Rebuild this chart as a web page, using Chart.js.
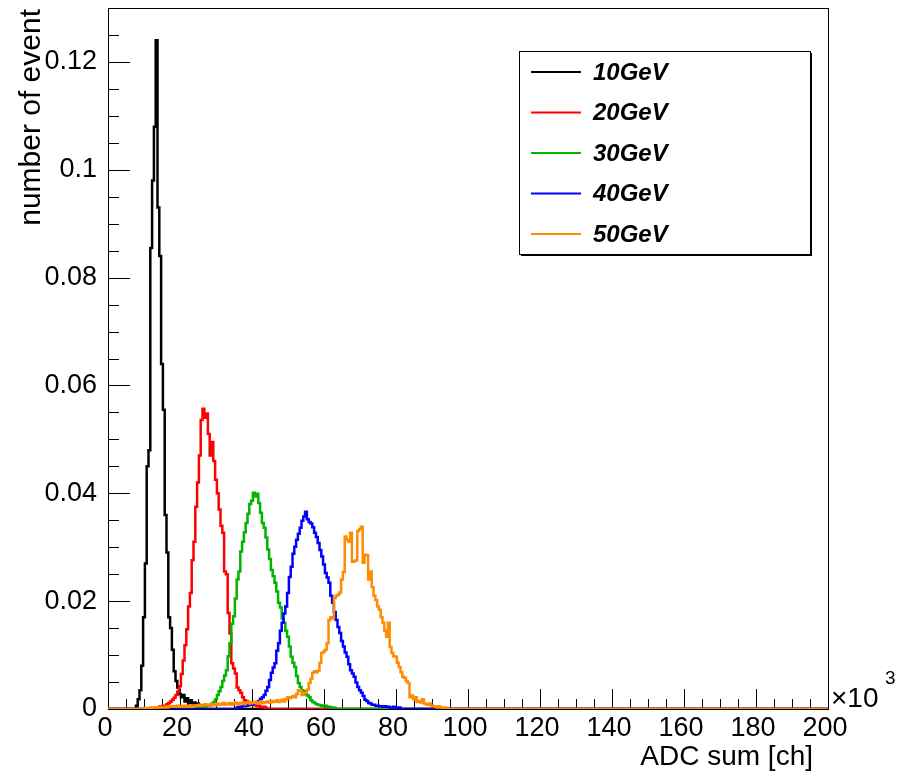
<!DOCTYPE html>
<html>
<head>
<meta charset="utf-8">
<script src="https://cdn.jsdelivr.net/npm/chart.js@4.4.1/dist/chart.umd.min.js"></script>
<style>
  html, body { margin: 0; padding: 0; background: #fff; }
  #wrap { width: 898px; height: 773px; }
</style>
</head>
<body>
<div id="wrap"><canvas id="adc-chart" width="898" height="773"></canvas></div>
<script>
// Legend labels and line colours, one per beam energy
const energyLabels = ['10GeV', '20GeV', '30GeV', '40GeV', '50GeV'];
const lineColors = ['#000000', '#ff0000', '#00b400', '#0000ff', '#ff8c00'];

// Axis ticks (x in units of 10^3 ch)
const xTickValues = [0, 20, 40, 60, 80, 100, 120, 140, 160, 180, 200];
const xTickLabels = ['0', '20', '40', '60', '80', '100', '120', '140', '160', '180', '200'];
const yTickValues = [0, 0.02, 0.04, 0.06, 0.08, 0.1, 0.12];
const yTickLabels = ['0', '0.02', '0.04', '0.06', '0.08', '0.1', '0.12'];

// Histogram contents, bins of 0.5 x10^3 ch, xxCentre = centre of the first bin
const binWidth = 0.5;

const h10Centre = 8.0;
const h10 = [
  0.0006, 0.0018, 0.0035, 0.008, 0.017, 0.027, 0.045, 0.048, 0.0855, 0.098,
  0.108, 0.124, 0.093, 0.084, 0.064, 0.0555, 0.036, 0.029, 0.017, 0.015,
  0.011, 0.007, 0.0052, 0.004, 0.0028, 0.0022, 0.0026, 0.0014, 0.002, 0.0009,
  0.0016, 0.0007, 0.0012, 0.0005, 0.001, 0.0003
];

const h20Centre = 14.0;
const h20 = [
  0.0003, 0.0005, 0.0004, 0.0006, 0.0005, 0.0009, 0.0011, 0.0014, 0.0017, 0.0021,
  0.0026, 0.0032, 0.0042, 0.0065, 0.009, 0.0118, 0.0148, 0.019, 0.0215, 0.0276,
  0.031, 0.0375, 0.042, 0.047, 0.0536, 0.0557, 0.054, 0.0548, 0.051, 0.047,
  0.0495, 0.046, 0.0425, 0.04, 0.037, 0.034, 0.0327, 0.0255, 0.025, 0.0178,
  0.014, 0.0085, 0.0075, 0.0066, 0.004, 0.0035, 0.003, 0.0022, 0.0016, 0.0015,
  0.0013, 0.0012, 0.001, 0.0007, 0.0008, 0.0005, 0.0006, 0.0004, 0.0003, 0.0004,
  0.0002
];

const h30Centre = 25.0;
const h30 = [
  0.0003, 0.0004, 0.0003, 0.0005, 0.0004, 0.0006, 0.0007, 0.0008, 0.001, 0.0013,
  0.0018, 0.0026, 0.0033, 0.0041, 0.0052, 0.0062, 0.0072, 0.0098, 0.0122, 0.0158,
  0.0172, 0.0205, 0.024, 0.0255, 0.0292, 0.031, 0.0328, 0.0345, 0.0362, 0.038,
  0.0386, 0.0401, 0.0394, 0.0399, 0.0382, 0.0364, 0.0345, 0.0336, 0.0318, 0.0296,
  0.0278, 0.0258, 0.0246, 0.0234, 0.0218, 0.0197, 0.0188, 0.0168, 0.016, 0.0145,
  0.0134, 0.0116, 0.0097, 0.0086, 0.0078, 0.0061, 0.0048, 0.0041, 0.0035, 0.0033,
  0.0028, 0.0025, 0.0022, 0.0016, 0.0013, 0.0011, 0.0009, 0.0008, 0.0007, 0.0006,
  0.0005, 0.0006, 0.0004, 0.0004, 0.0003, 0.0003, 0.0002
];

const h40Centre = 36.0;
const h40 = [
  0.0003, 0.0004, 0.0003, 0.0005, 0.0005, 0.0006, 0.0007, 0.0008, 0.0008, 0.001,
  0.0011, 0.0013, 0.0015, 0.0019, 0.0022, 0.0026, 0.0034, 0.0041, 0.0054, 0.0067,
  0.0077, 0.0085, 0.0108, 0.0122, 0.0145, 0.016, 0.0177, 0.019, 0.0215, 0.0245,
  0.0264, 0.0288, 0.0301, 0.0314, 0.0325, 0.0336, 0.0349, 0.0357, 0.0366, 0.0352,
  0.0347, 0.0344, 0.0337, 0.0327, 0.0319, 0.0308, 0.0295, 0.0283, 0.0268, 0.0252,
  0.0244, 0.0234, 0.021, 0.0197, 0.018, 0.0165, 0.0152, 0.0141, 0.0126, 0.0116,
  0.0105, 0.0097, 0.0083, 0.0072, 0.0066, 0.006, 0.0049, 0.0041, 0.0035, 0.003,
  0.0024, 0.0017, 0.0015, 0.0011, 0.001, 0.0008, 0.0008, 0.0006, 0.0006, 0.0005,
  0.0005, 0.0004, 0.0005, 0.0004, 0.0004, 0.0003, 0.0003, 0.0004, 0.0003, 0.0002,
  0.0003
];

const h50Centre = 10.0;
const h50 = [
  0.0002, 0.0001, 0.0002, 0.0002, 0.0003, 0.0002, 0.0003, 0.0003, 0.0002, 0.0004,
  0.0003, 0.0003, 0.0004, 0.0003, 0.0005, 0.0004, 0.0004, 0.0005, 0.0004, 0.0006,
  0.0005, 0.0004, 0.0006, 0.0005, 0.0006, 0.0005, 0.0007, 0.0006, 0.0005, 0.0007,
  0.0006, 0.0008, 0.0006, 0.0007, 0.0009, 0.0007, 0.0008, 0.0006, 0.0009, 0.0008,
  0.0007, 0.001, 0.0008, 0.0009, 0.0011, 0.0008, 0.001, 0.0009, 0.0011, 0.0008,
  0.001, 0.0012, 0.0009, 0.0011, 0.001, 0.0012, 0.0009, 0.0011, 0.0013, 0.001,
  0.0012, 0.0011, 0.0013, 0.001, 0.0012, 0.0014, 0.0011, 0.0013, 0.0012, 0.0014,
  0.0012, 0.0015, 0.0013, 0.0014, 0.0016, 0.0013, 0.0015, 0.0017, 0.0014, 0.0018,
  0.0022, 0.002, 0.0022, 0.0024, 0.0022, 0.0028, 0.0035, 0.0034, 0.0026, 0.003,
  0.003, 0.0036, 0.0048, 0.0056, 0.0067, 0.007, 0.0068, 0.0071, 0.0086, 0.0104,
  0.0106, 0.011, 0.0122, 0.0165, 0.017, 0.0168, 0.0206, 0.021, 0.0212, 0.0216,
  0.024, 0.0254, 0.032, 0.0314, 0.031, 0.0327, 0.0273, 0.0274, 0.0276, 0.033,
  0.0334, 0.0338, 0.0271, 0.0286, 0.0285, 0.024, 0.0255, 0.0226, 0.021, 0.0202,
  0.019, 0.0184, 0.017, 0.016, 0.0145, 0.0134, 0.016, 0.0115, 0.0104, 0.0098,
  0.0097, 0.0086, 0.0078, 0.0068, 0.006, 0.0058, 0.0052, 0.0048, 0.0022, 0.0025,
  0.0018, 0.0022, 0.0013, 0.0015, 0.0012, 0.0018, 0.001, 0.0009, 0.0008, 0.001,
  0.0006, 0.0005, 0.0004, 0.0003, 0.0005, 0.0003, 0.0002, 0.0003, 0.0002
];

const histCentres = [h10Centre, h20Centre, h30Centre, h40Centre, h50Centre];
const histValues = [h10, h20, h30, h40, h50];

const X_MAX = 200;
const Y_MAX = 0.13;
const FONT = "'Liberation Sans', Arial, Helvetica, sans-serif";

/**
 * Turn a list of bin contents into step points (bin centres),
 * padded with empty bins so the line runs along zero over the full axis
 */
function toSteps(firstCentre, values) {
  const pts = [{ x: 0, y: 0 }, { x: firstCentre - binWidth, y: 0 }];
  values.forEach((v, i) => pts.push({ x: firstCentre + i * binWidth, y: v }));
  pts.push({ x: firstCentre + values.length * binWidth, y: 0 });
  pts.push({ x: X_MAX, y: 0 });
  return pts;
}

// Frame, inward ROOT-style ticks, axis titles, exponent and legend box
const rootFrame = {
  id: 'rootFrame',
  beforeDatasetsDraw(chart) {
    const { ctx, chartArea: a, scales: { x, y } } = chart;
    ctx.save();
    ctx.strokeStyle = '#000';
    ctx.lineWidth = 1;
    ctx.strokeRect(a.left + 0.5, a.top + 0.5, a.right - a.left, a.bottom - a.top);

    ctx.beginPath();
    // x ticks: major every 20, minor every 5
    for (let v = 0; v <= X_MAX; v += 5) {
      const px = Math.round(x.getPixelForValue(v)) + 0.5;
      const len = v % 20 === 0 ? 20 : 10;
      ctx.moveTo(px, a.bottom);
      ctx.lineTo(px, a.bottom - len);
    }
    // y ticks: major every 0.02, minor every 0.005
    for (let k = 0; k * 0.005 <= Y_MAX + 1e-9; k++) {
      const py = Math.round(y.getPixelForValue(k * 0.005)) + 0.5;
      const len = k % 4 === 0 ? 22 : 11;
      ctx.moveTo(a.left, py);
      ctx.lineTo(a.left + len, py);
    }
    ctx.stroke();
    ctx.restore();
  },
  afterDraw(chart) {
    const { ctx, chartArea: a } = chart;
    ctx.save();
    ctx.fillStyle = '#000';

    // axis titles
    ctx.font = '28px ' + FONT;
    ctx.textAlign = 'right';
    ctx.textBaseline = 'alphabetic';
    ctx.fillText('ADC sum [ch]', a.right - 15, 765);

    ctx.save();
    ctx.font = '30px ' + FONT;
    ctx.translate(40, a.top + 1);
    ctx.rotate(-Math.PI / 2);
    ctx.textAlign = 'right';
    ctx.fillText('number of event', 0, 0);
    ctx.restore();

    // x10^3 exponent
    ctx.font = '28px ' + FONT;
    ctx.textAlign = 'left';
    ctx.fillText('\u00d710', a.right + 3, 707);
    ctx.font = '19px ' + FONT;
    ctx.fillText('3', a.right + 57, 684);

    // legend box
    const lx = 519, ly = 51, lw = 291, lh = 203;
    ctx.fillStyle = '#fff';
    ctx.fillRect(lx, ly, lw, lh);
    ctx.fillStyle = '#000';
    ctx.fillRect(lx + lw, ly + 2, 2, lh);
    ctx.fillRect(lx + 2, ly + lh, lw, 2);
    ctx.strokeStyle = '#000';
    ctx.lineWidth = 1;
    ctx.strokeRect(lx + 0.5, ly + 0.5, lw, lh);

    ctx.font = 'italic bold 24px ' + FONT;
    ctx.textAlign = 'left';
    ctx.textBaseline = 'middle';
    chart.data.datasets.forEach((ds, i) => {
      const rowY = ly + 21 + i * 40.5;
      ctx.strokeStyle = ds.borderColor;
      ctx.lineWidth = 2;
      ctx.beginPath();
      ctx.moveTo(lx + 12, rowY);
      ctx.lineTo(lx + 62, rowY);
      ctx.stroke();
      ctx.fillStyle = '#000';
      ctx.fillText(ds.label, lx + 74, rowY + 1);
    });
    ctx.restore();
  },
};

const datasets = energyLabels.map((label, i) => ({
  label,
  data: toSteps(histCentres[i], histValues[i]),
  borderColor: lineColors[i],
  borderWidth: 2.5,
  pointRadius: 0,
  fill: false,
  stepped: 'middle',
  // later energies drawn on top
  order: energyLabels.length - i,
}));

Chart.defaults.font.family = FONT;
Chart.defaults.color = '#000';

new Chart(document.getElementById('adc-chart').getContext('2d'), {
  type: 'line',
  data: { datasets },
  options: {
    responsive: false,
    animation: false,
    events: [],
    layout: { padding: { top: 8, right: 70, left: 0, bottom: 0 } },
    plugins: {
      legend: { display: false },
      tooltip: { enabled: false },
    },
    scales: {
      x: {
        type: 'linear',
        min: 0,
        max: X_MAX,
        grid: { display: false, drawTicks: false },
        border: { display: false },
        ticks: {
          font: { size: 27 },
          padding: 3,
          labelOffset: -3,
          maxRotation: 0,
          callback: (v, i) => xTickLabels[i],
        },
        afterBuildTicks: (scale) => {
          scale.ticks = xTickValues.map((v) => ({ value: v }));
        },
        afterFit: (scale) => {
          scale.height = 64;
          scale.paddingLeft = 0;
          scale.paddingRight = 0;
        },
      },
      y: {
        type: 'linear',
        min: 0,
        max: Y_MAX,
        grid: { display: false, drawTicks: false },
        border: { display: false },
        ticks: {
          font: { size: 27 },
          padding: 11,
          callback: (v, i) => yTickLabels[i],
        },
        afterBuildTicks: (scale) => {
          scale.ticks = yTickValues.map((v) => ({ value: v }));
        },
        afterFit: (scale) => {
          scale.width = 108;
          scale.paddingTop = 0;
          scale.paddingBottom = 0;
        },
      },
    },
  },
  plugins: [rootFrame],
});
</script>
</body>
</html>
